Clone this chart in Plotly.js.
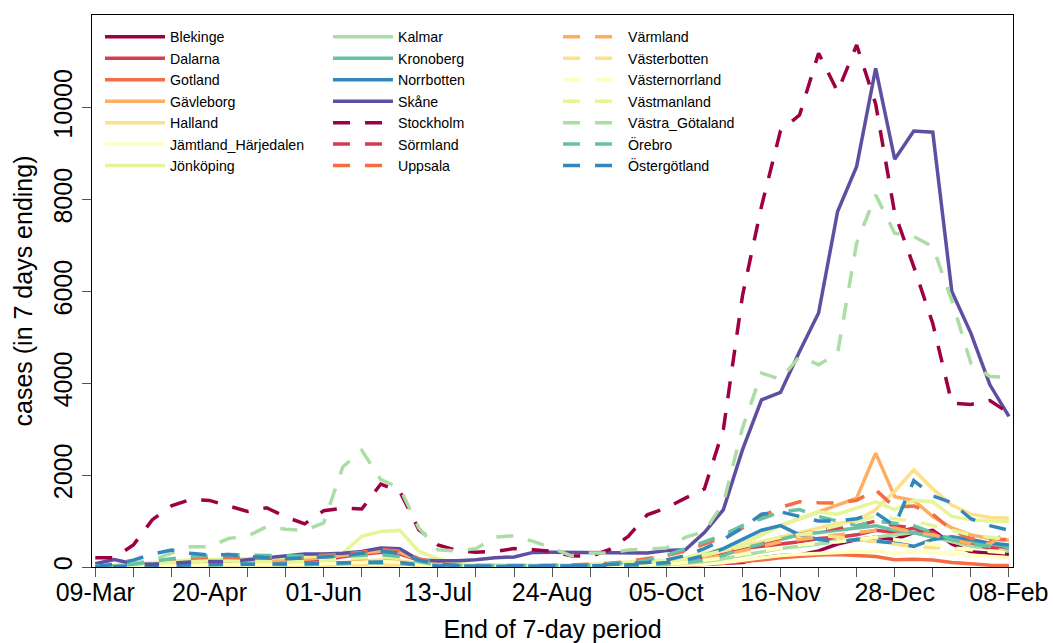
<!DOCTYPE html>
<html>
<head>
<meta charset="utf-8">
<script src="https://cdn.plot.ly/plotly-3.0.1.min.js"></script>
<style>body{margin:0;padding:0;background:#fff;} #chart{width:1053px;height:643px;}</style>
</head>
<body>
<div id="chart"></div>
<script>
// End dates of the weekly (7-day) periods
const dates = [
  '2020-03-09','2020-03-16','2020-03-23','2020-03-30','2020-04-06','2020-04-13','2020-04-20','2020-04-27',
  '2020-05-04','2020-05-11','2020-05-18','2020-05-25','2020-06-01','2020-06-08','2020-06-15','2020-06-22',
  '2020-06-29','2020-07-06','2020-07-13','2020-07-20','2020-07-27','2020-08-03','2020-08-10','2020-08-17',
  '2020-08-24','2020-08-31','2020-09-07','2020-09-14','2020-09-21','2020-09-28','2020-10-05','2020-10-12',
  '2020-10-19','2020-10-26','2020-11-02','2020-11-09','2020-11-16','2020-11-23','2020-11-30','2020-12-07',
  '2020-12-14','2020-12-21','2020-12-28','2021-01-04','2021-01-11','2021-01-18','2021-01-25','2021-02-01',
  '2021-02-08'
];

// x-axis ticks (every two weeks, labelled every six weeks)
const tickDates = [
  '2020-03-09','2020-03-23','2020-04-06','2020-04-20','2020-05-04','2020-05-18','2020-06-01','2020-06-15',
  '2020-06-29','2020-07-13','2020-07-27','2020-08-10','2020-08-24','2020-09-07','2020-09-21','2020-10-05',
  '2020-10-19','2020-11-02','2020-11-16','2020-11-30','2020-12-14','2020-12-28','2021-01-11','2021-01-25',
  '2021-02-08'
];
const tickText = [
  '09-Mar','','','20-Apr','','','01-Jun','','','13-Jul','','','24-Aug','','','05-Oct','','','16-Nov','','',
  '28-Dec','','','08-Feb'
];
const yTickVals = [0, 2000, 4000, 6000, 8000, 10000];
const yTickText = ['0', '2000', '4000', '6000', '8000', '10000'];

// weekly cases per region
const blekinge = [0,2,5,8,10,12,10,8,10,12, 15,20,30,40,60,70,55,30,15,10, 8,10,12,10,8,10,15,20,25,30, 40,50,60,80,100,200,250,260,350,500, 600,650,600,750,800,500,330,300,280];
const dalarna = [5,30,60,90,100,110,120,130,110,100, 110,130,160,220,280,320,280,150,70,40, 30,25,25,20,20,25,30,35,50,60, 80,120,200,300,400,450,500,550,620,650, 700,800,750,850,700,600,500,420,380];
const gotland = [0,2,5,5,8,8,5,3,2,2, 2,2,3,5,8,10,12,10,8,5, 5,5,5,5,5,5,5,10,10,15, 20,30,50,80,120,150,200,230,260,270, 250,230,160,170,150,100,70,40,30];
const gavleborg = [2,10,30,50,60,80,100,120,130,140, 150,170,200,250,300,350,320,150,60,30, 20,20,20,20,25,30,40,50,60,80, 100,150,250,350,500,700,900,1050,1200,1330, 1500,2480,1530,1450,1100,850,700,620,580];
const halland = [2,10,20,30,40,50,50,50,50,50, 60,70,80,100,130,150,130,80,40,25, 20,20,25,30,30,35,40,60,80,100, 130,180,250,350,450,550,650,750,850,950, 1000,1250,1650,2117,1700,1350,1150,1080,1060];
const jamtland = [5,20,30,30,30,25,20,15,15,15, 15,20,25,30,40,50,40,20,10,5, 5,5,5,5,5,5,10,10,15,20, 30,40,60,100,150,200,250,280,300,320, 330,340,300,350,320,280,250,220,200];
const jonkoping = [2,20,60,100,130,150,160,170,180,200, 200,220,250,305,666,775,797,340,180,80, 50,40,40,40,40,50,60,80,100,120, 150,200,300,400,500,700,900,1050,1200,1150, 1280,1420,1250,1450,1420,1100,1030,1000,990];
const kalmar = [0,5,10,20,30,40,40,40,50,50, 50,60,70,80,100,110,90,50,30,20, 15,15,15,15,15,20,25,30,35,40, 50,80,120,180,250,320,400,450,500,550, 600,650,700,750,650,550,450,400,350];
const kronoberg = [0,10,30,60,90,100,90,80,60,50, 50,50,60,70,80,90,70,40,20,10, 10,10,15,15,15,20,25,30,40,50, 70,100,150,250,400,500,600,700,750,800, 850,900,800,750,650,600,550,500,450];
const norrbotten = [0,10,20,30,40,50,60,60,60,60, 60,70,80,90,100,110,100,50,25,15, 10,10,10,10,15,20,25,30,40,60, 100,150,250,400,600,800,900,700,600,550, 600,560,520,450,600,660,600,520,480];
const skane = [70,160,70,60,80,110,120,120,160,196, 230,283,283,300,340,413,400,150,137,137, 160,200,220,318,320,320,320,310,305,305, 360,376,750,1250,2550,3640,3800,4690,5530,7740, 8720,10857,8877,9493,9465,5997,5092,3967,3277];
const stockholm = [200,200,480,1030,1330,1470,1450,1330,1210,1290, 1090,940,1225,1280,1262,1806,1645,810,480,360, 320,340,400,377,340,245,230,377,666,1138, 1284,1500,1700,3000,5900,7850,9500,9840,11184,10348, 11364,10080,7700,6540,5300,3568,3540,3625,3350];
const sormland = [0,10,30,60,90,120,150,160,150,140, 130,130,150,180,220,250,220,120,50,25, 20,15,15,15,20,25,30,40,50,70, 90,130,200,300,400,500,600,700,800,850, 900,1000,900,850,750,600,500,420,380];
const uppsala = [5,30,80,120,150,180,200,210,200,200, 200,220,250,280,320,380,350,180,80,40, 30,30,30,30,35,40,60,80,120,180, 250,350,500,650,850,1100,1300,1420,1400,1390, 1450,1680,1300,1330,1150,800,620,600,600];
const varmland = [0,5,15,30,40,50,60,60,60,70, 80,90,100,120,150,180,150,70,30,15, 10,10,10,15,15,20,25,30,40,60, 80,120,180,250,350,450,550,600,650,700, 750,800,850,750,700,600,500,500,800];
const vasterbotten = [0,5,10,20,25,30,30,25,20,20, 20,25,30,40,50,60,50,30,15,10, 10,10,10,10,10,15,20,30,40,60, 90,150,250,350,450,550,650,700,700,650, 600,550,500,450,420,400,380,350,330];
const vasternorrland = [0,5,10,20,30,40,50,50,50,50, 50,60,70,80,100,120,100,50,25,15, 10,10,10,10,10,15,20,25,30,40, 60,90,140,200,280,350,420,480,520,550, 600,650,600,550,500,420,380,330,300];
const vastmanland = [0,20,50,80,100,120,130,130,120,110, 110,120,140,170,200,220,190,100,40,20, 15,15,15,15,20,25,35,50,70,100, 130,180,260,350,450,550,650,700,800,900, 1000,1100,1050,1000,900,800,700,650,600];
const vastraGotaland = [20,40,80,150,300,440,440,620,670,880, 820,800,960,2176,2540,1900,1720,848,376,350, 400,650,680,557,413,245,305,305,370,400, 411,645,775,1392,3024,4221,4090,4583,4402,4656, 7050,8100,7267,7194,6976,5800,4438,4147,4125];
const orebro = [0,20,60,120,180,220,250,270,260,250, 240,230,230,240,260,270,230,120,50,25, 20,20,20,20,25,30,40,60,90,150, 250,400,550,700,900,1050,1200,1250,1100,1000, 900,1000,950,900,750,600,500,450,400];
const ostergotland = [10,60,150,280,370,300,260,270,230,200, 180,200,220,240,300,340,300,150,60,30, 20,20,20,20,25,30,40,50,70,100, 150,250,400,600,850,1150,1200,1100,1000,1000, 1050,1180,900,1880,1550,1400,1050,900,800];

const regions = ['Blekinge','Dalarna','Gotland','Gävleborg','Halland','Jämtland_Härjedalen','Jönköping',
  'Kalmar','Kronoberg','Norrbotten','Skåne','Stockholm','Sörmland','Uppsala','Värmland','Västerbotten',
  'Västernorrland','Västmanland','Västra_Götaland','Örebro','Östergötland'];
const series = [blekinge,dalarna,gotland,gavleborg,halland,jamtland,jonkoping,kalmar,kronoberg,norrbotten,
  skane,stockholm,sormland,uppsala,varmland,vasterbotten,vasternorrland,vastmanland,vastraGotaland,orebro,ostergotland];

// styles
const palette = ['#9E0142','#D53E4F','#F46D43','#FDAE61','#FEE08B','#FFFFBF','#E6F598','#ABDDA4','#66C2A5','#3288BD','#5E4FA2'];
const legendIds = ['legend','legend2','legend3'];

const traces = regions.map((name, i) => ({
  type: 'scatter', mode: 'lines', name: name,
  x: dates, y: series[i],
  line: {color: palette[i % 11], width: 3.5, dash: i < 11 ? 'solid' : '17px,15px'},
  legend: legendIds[Math.floor(i / 7)],
  hoverinfo: 'skip'
}));

const legendBase = {
  orientation: 'v', yanchor: 'top', xanchor: 'left', y: 0.989,
  bgcolor: 'rgba(0,0,0,0)', borderwidth: 0, itemwidth: 60,
  font: {family: 'Liberation Sans, Arial, sans-serif', size: 14.2, color: '#000'},
  itemclick: false, itemdoubleclick: false
};

const layout = {
  width: 1053, height: 643,
  margin: {l: 92, r: 40, t: 15, b: 76},
  paper_bgcolor: '#fff', plot_bgcolor: '#fff',
  font: {family: 'Liberation Sans, Arial, sans-serif', color: '#000'},
  showlegend: true,
  legend: Object.assign({}, legendBase, {x: 0.0087}),
  legend2: Object.assign({}, legendBase, {x: 0.2562}),
  legend3: Object.assign({}, legendBase, {x: 0.506}),
  xaxis: {
    type: 'date', range: ['2020-03-07 19:00', '2021-02-09 12:00'],
    tickmode: 'array', tickvals: tickDates, ticktext: tickText,
    ticks: 'outside', ticklen: 9, tickwidth: 1, tickcolor: '#555',
    ticklabelstandoff: -6,
    showgrid: false, zeroline: false,
    showline: true, mirror: true, linecolor: '#000', linewidth: 1,
    tickfont: {size: 25, color: '#000'},
    title: {text: 'End of 7-day period', font: {size: 25, color: '#000'}, standoff: 20},
    automargin: false, fixedrange: true
  },
  yaxis: {
    range: [0, 12017],
    tickmode: 'array', tickvals: yTickVals, ticktext: yTickText, tickangle: -90,
    ticks: 'outside', ticklen: 9, tickwidth: 1, tickcolor: '#555',
    showgrid: false, zeroline: false,
    showline: true, mirror: true, linecolor: '#000', linewidth: 1,
    tickfont: {size: 25, color: '#000'},
    title: {text: 'cases (in 7 days ending)', font: {size: 25, color: '#000'}, standoff: 9},
    automargin: false, fixedrange: true
  }
};

Plotly.newPlot('chart', traces, layout, {staticPlot: true, displayModeBar: false});
</script>
</body>
</html>
